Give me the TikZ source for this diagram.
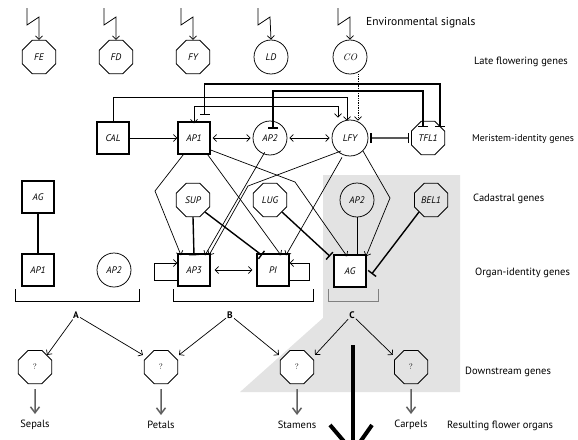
\documentclass[tikz,border=0pt]{standalone}
\usepackage{fontspec}
\newfontfamily\lab{PT Sans}
\usetikzlibrary{shapes.geometric,arrows.meta}
\begin{document}
\begin{tikzpicture}[x=1pt,y=-1pt,
  gene/.style={font=\lab\itshape\fontsize{9.5}{10}\selectfont},
  sq/.style={draw,line width=1.4pt,minimum size=32pt,inner sep=0pt,gene},
  oct/.style={draw,regular polygon,regular polygon sides=8,minimum size=36pt,inner sep=0pt,line width=0.75pt,gene},
  circ/.style={draw,circle,minimum size=34pt,inner sep=0pt,line width=0.75pt,gene},
  qoct/.style={oct,font=\rmfamily\fontsize{8}{9}\selectfont},
  act/.style={line width=0.7pt,-{Straight Barb[length=3.5pt,width=7pt]}},
  dact/.style={line width=0.7pt,{Straight Barb[length=3.5pt,width=7pt]}-{Straight Barb[length=3.5pt,width=7pt]}},
  inh/.style={line width=1.4pt,-{Bar[width=10pt,line width=1.4pt]}},
  inhthin/.style={line width=0.9pt,-{Bar[width=10pt,line width=1.2pt]}},
  dinh/.style={line width=1.4pt,{Bar[width=10pt,line width=1.4pt]}-{Bar[width=10pt,line width=1.4pt]}},
  bolt/.style={line width=0.75pt,-{Straight Barb[length=3.5pt,width=7pt]}},
  organ/.style={gray!75!black,line width=1.5pt,-{Straight Barb[length=6pt,width=9pt,line width=1.5pt]}},
  side/.style={font=\lab\fontsize{10.5}{12}\selectfont,anchor=west,inner sep=0pt},
  letter/.style={font=\lab\bfseries\fontsize{9.5}{10}\selectfont,inner sep=1pt},
  bottom/.style={font=\lab\fontsize{10.5}{12}\selectfont,inner sep=0pt},
  brk/.style={line width=0.75pt}
]
\useasboundingbox (0,0) rectangle (578,439);
% grey area
\fill[gray!22] (323,175) -- (460,175) -- (460,392) -- (240,392) -- (323,318) -- cycle;

% late flowering genes
\node[oct]  (FE) at (39,57) {FE};
\node[oct]  (FD) at (116,57) {FD};
\node[oct]  (FY) at (193,57) {FY};
\node[circ] (LD) at (271,57) {LD};
\node[circ] (CO) at (350,57) {\rmfamily\itshape CO};
\foreach \n/\x in {FE/39,FD/116,FY/193,LD/270,CO/350}{
  \coordinate (b\n) at (\x-12,8);
  \draw[bolt] (b\n) -- ++(0,17) -- ++(12,-8) -- (\n.north);
}
\node[side,font=\lab\fontsize{11.5}{13}\selectfont] (env) at (366,23) {Environmental signals};
\node[side] (lfg) at (474,62) {Late flowering genes};

% meristem identity
\node[sq]   (CAL) at (113,138) {CAL};
\node[sq]   (AP1) at (194,138) {AP1};
\node[circ] (AP2) at (270,138) {AP2};
\node[circ,minimum size=36pt] (LFY) at (350,138) {LFY};
\node[oct]  (TFL) at (428,138) {TFL1};
\node[side,font=\lab\fontsize{9.8}{11}\selectfont] (mig) at (472,139) {Meristem-identity genes};

% cadastral
\node[sq]   (AGc) at (38,197) {AG};
\node[oct]  (SUP) at (193,200) {SUP};
\node[oct]  (LUG) at (270,200) {LUG};
\node[circ] (AP2c) at (357,200) {AP2};
\node[oct]  (BEL) at (431,200) {BEL1};
\node[side] (cg) at (473,199) {Cadastral genes};

% organ identity
\node[sq]   (AP1o) at (38,270) {AP1};
\node[circ] (AP2o) at (114,270) {AP2};
\node[sq]   (AP3) at (194,270) {AP3};
\node[sq]   (PI)  at (273,270) {PI};
\node[sq,fill=white]   (AG)  at (350,271) {AG};
\node[side] (oig) at (475,273) {Organ-identity genes};

% downstream
\node[qoct] (Q1) at (35,367) {?};
\node[qoct] (Q2) at (161,367) {?};
\node[qoct,fill=white] (Q3) at (297,367) {?};
\node[qoct] (Q4) at (411,367) {?};
\node[side] (dg) at (465,372) {Downstream genes};

% bottom labels
\node[bottom] (Se) at (35,425) {Sepals};
\node[bottom] (Pe) at (161,425) {Petals};
\node[bottom] (St) at (297,425) {Stamens};
\node[bottom] (Ca) at (411,425) {Carpels};
\node[side] (rfo) at (447,426) {Resulting flower organs};
\foreach \q/\o in {Q1/Se,Q2/Pe,Q3/St,Q4/Ca}
  \draw[organ] (\q.south) ++(0,5) -- ([yshift=6pt]\o.north);

% top connectors
\draw[dinh] (AP1.north east) ++(-6,-6) coordinate (t1) -- (t1 |- 0,84) -| ([xshift=12pt,yshift=-6pt]TFL.north);
\draw[dinh] ([xshift=3pt,yshift=-8pt]AP2.north) coordinate (t2) -- (t2 |- 0,91) -| ([xshift=-5pt,yshift=-6pt]TFL.north);
\draw[act] (CAL.north) -- (CAL.north |- 0,97) -| ([xshift=-3pt,yshift=-1pt]LFY.north);
\draw[dact] ([yshift=-2pt]AP1.north) -- ([yshift=-2pt]AP1.north |- 0,104) -| ([xshift=-12pt,yshift=2pt]LFY.north);
\draw[line width=0.7pt,densely dotted,-{Straight Barb[length=3.5pt,width=7pt]}] ([xshift=8pt]CO.south) -- ([xshift=8pt,yshift=-1pt]LFY.north);

% meristem row
\draw[act] (CAL) -- (AP1);
\draw[dact] ([xshift=2pt]AP1.east) -- ([xshift=-2pt]AP2.west);
\draw[dact] ([xshift=2pt]AP2.east) -- ([xshift=-2pt]LFY.west);
\draw[dinh] ([xshift=2pt]LFY.east) -- ([xshift=-2pt]TFL.west);

% network
\coordinate (k1) at (155,191);
\coordinate (k2) at (295,182);
\coordinate (k3) at (248,186);
\coordinate (k4) at (390,198);
\draw[act] (AP1.south west) ++(6,0) -- (k1) -- ([xshift=-13pt,yshift=-2pt]AP3.north);
\draw[act] (AP1.south east) ++(-3,0) -- ([xshift=8pt,yshift=-2pt]PI.north);
\draw[act] (AP1.east) ++(0,12) -- (k2) -- ([xshift=-3pt,yshift=-2pt]AG.north);
\draw[act] (AP2.south west) ++(7,2) -- ([xshift=11pt,yshift=-2pt]AP3.north);
\draw[act] (LFY.south west) ++(4,0) -- (k3) -- ([xshift=15pt,yshift=-2pt]AP3.north);
\draw[act] (LFY.south) ++(-8,1) -- ([xshift=13pt,yshift=-2pt]PI.north);
\draw[act] (LFY.south east) -- (k4) -- ([xshift=16pt,yshift=-2pt]AG.north);

\draw[inh] (SUP.south) -- ([yshift=-2pt]AP3.north);
\draw[inh] (SUP.south east) -- ([xshift=-11pt,yshift=-2pt]PI.north);
\draw[inh] (LUG.south east) -- ([xshift=-20pt,yshift=-2pt]AG.north);
\draw[inhthin] (AP2c.south) -- ([xshift=7pt,yshift=-2pt]AG.north);
\draw[inh] (BEL.south west) -- ([xshift=5pt,yshift=-3pt]AG.east);
\draw[inh] (AGc.south) -- ([yshift=-2pt]AP1o.north);

% organ row
\draw[dact] ([xshift=4pt]AP3.east) -- ([xshift=-4pt]PI.west);
\draw[act] ([yshift=-10pt]AP3.west) -- ++(-23,0) |- ([yshift=7pt]AP3.west);
\draw[act] ([yshift=-10pt]PI.east) -- ++(20,0) |- ([yshift=7pt]PI.east);

% brackets
\draw[brk] (15,289) -- (15,301) -- (139,301) -- (139,289);
\draw[brk] (173,289) -- (173,301) -- (313,301) -- (313,289);
\draw[brk,gray] (328,289) -- (328,301) -- (378,301) -- (378,289);
\node[letter] (A) at (76,315) {A};
\node[letter] (B) at (230,315) {B};
\node[letter] (C) at (352,315) {C};
\draw[act] (A) -- (Q1.north east);
\draw[act] (A) -- ([xshift=-6pt]Q2.north west);
\draw[act] (B) -- ([xshift=6pt]Q2.north east);
\draw[act] (B) -- ([xshift=-6pt]Q3.north west);
\draw[act] (C) -- ([xshift=6pt]Q3.north east);
\draw[act] (C) -- ([xshift=-6pt]Q4.north west);

% big arrow
\coordinate (bigtip) at (353,452);
\draw[line width=3.5pt] (353,345) -- (bigtip);
\draw[line width=4pt] (330,425) -- (bigtip) -- (372,425);
\end{tikzpicture}
\end{document}
